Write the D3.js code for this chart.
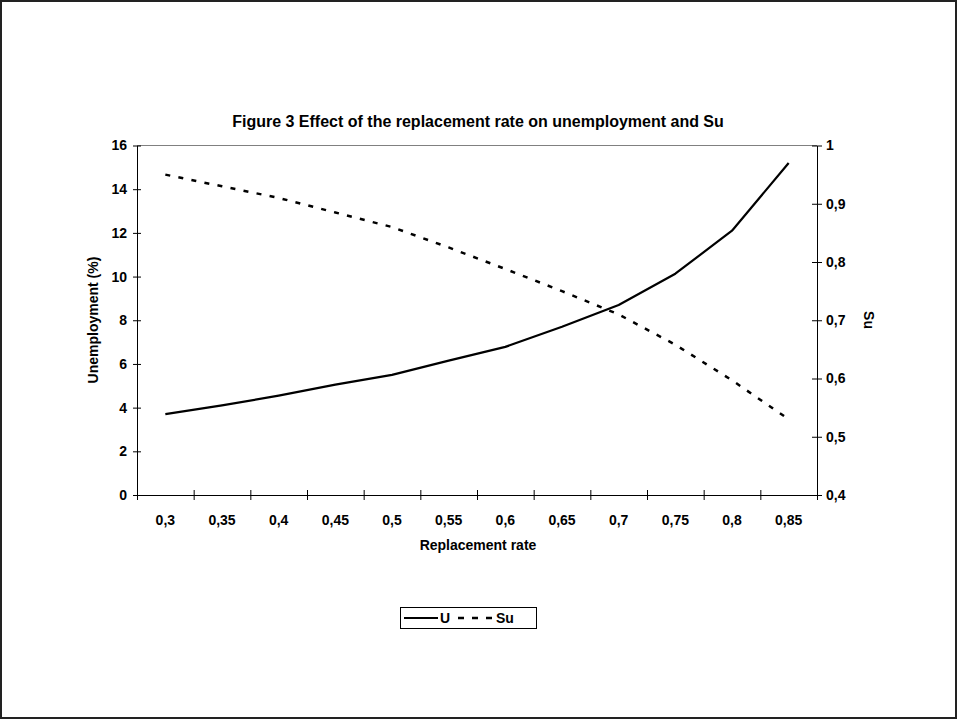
<!DOCTYPE html>
<html><head><meta charset="utf-8">
<script src="https://cdn.jsdelivr.net/npm/d3@7"></script>
<style>
html,body{margin:0;padding:0;background:#fff;}
svg text{font-family:"Liberation Sans",Arial,sans-serif;font-weight:bold;fill:#000;}
</style></head>
<body>
<svg id="chart" width="958" height="720"></svg>
<script>
const categories = ["0,3","0,35","0,4","0,45","0,5","0,55","0,6","0,65","0,7","0,75","0,8","0,85"];
const uValues  = [3.7, 4.1, 4.55, 5.05, 5.5, 6.15, 6.78, 7.7, 8.7, 10.13, 12.1, 15.2];
const suValues = [0.95, 0.93, 0.91, 0.885, 0.86, 0.825, 0.788, 0.75, 0.71, 0.658, 0.597, 0.53];
const leftTicks = [0, 2, 4, 6, 8, 10, 12, 14, 16];
const rightTicks = [0.4, 0.5, 0.6, 0.7, 0.8, 0.9, 1];
const rightTickLabels = ["0,4","0,5","0,6","0,7","0,8","0,9","1"];

const svg = d3.select("#chart");
const L = 137, R = 817, T = 145.5, B = 495;
const FS = "14px";

// outer border
svg.append("rect").attr("x",1).attr("y",1).attr("width",955).attr("height",717)
  .attr("fill","#fff").attr("stroke","#222").attr("stroke-width",2);

const x = d3.scaleBand().domain(categories).range([L, R]).padding(0);
const xb = d3.scaleLinear().domain([0, categories.length]).range([L, R]);
const yL = d3.scaleLinear().domain([0, 16]).range([B, T]);
const yR = d3.scaleLinear().domain([0.4, 1]).range([B, T]);
const cx = c => x(c) + x.bandwidth() / 2;

// plot area top border
svg.append("line").attr("x1",L).attr("x2",R).attr("y1",T).attr("y2",T)
  .attr("stroke","#808080").attr("stroke-width",1);

function styleAxis(g){
  g.select(".domain").attr("stroke","#000").attr("stroke-width",1);
  g.selectAll(".tick line").attr("stroke","#000").attr("stroke-width",1);
  g.selectAll("text").attr("font-size",FS).attr("font-family","Liberation Sans, Arial, sans-serif").attr("font-weight","bold").attr("fill","#000");
}

// bottom axis: boundary ticks
const gxB = svg.append("g").attr("transform",`translate(0,${B})`)
  .call(d3.axisBottom(xb).tickValues(d3.range(0, categories.length + 1)).tickSize(5).tickSizeOuter(0).tickFormat(""));
gxB.selectAll(".tick line").attr("y1",-5).attr("y2",5);
styleAxis(gxB);
// bottom labels
const gxL = svg.append("g").attr("transform",`translate(0,${B})`)
  .call(d3.axisBottom(x).tickSize(0).tickPadding(20));
gxL.select(".domain").remove();
styleAxis(gxL);

// left axis
const gyL = svg.append("g").attr("transform",`translate(${L},0)`)
  .call(d3.axisLeft(yL).tickValues(leftTicks).tickSize(4).tickSizeOuter(0).tickPadding(6).tickFormat(d3.format("d")));
gyL.selectAll(".tick line").attr("x1",4).attr("x2",-4);
styleAxis(gyL);

// right axis
const gyR = svg.append("g").attr("transform",`translate(${R},0)`)
  .call(d3.axisRight(yR).tickValues(rightTicks).tickSize(4).tickSizeOuter(0).tickPadding(5)
    .tickFormat((d,i) => rightTickLabels[i]));
gyR.selectAll(".tick line").attr("x1",-5).attr("x2",5);
styleAxis(gyR);

// lines
const lineU = d3.line().x((d,i) => cx(categories[i])).y(d => yL(d));
const lineSu = d3.line().x((d,i) => cx(categories[i])).y(d => yR(d));
svg.append("path").datum(uValues).attr("d", lineU).attr("fill","none")
  .attr("stroke","#000").attr("stroke-width",2.2).attr("stroke-linejoin","round");
svg.append("path").datum(suValues).attr("d", lineSu).attr("fill","none")
  .attr("stroke","#000").attr("stroke-width",2.5).attr("stroke-dasharray","5,8.3");

// title
svg.append("text").attr("x",478).attr("y",127).attr("text-anchor","middle")
  .attr("font-size","16px").text("Figure 3 Effect of the replacement rate on unemployment and Su");
// x axis title
svg.append("text").attr("x",478).attr("y",550).attr("text-anchor","middle")
  .attr("font-size",FS).text("Replacement rate");
// left axis title
svg.append("text").attr("transform","translate(98,320) rotate(-90)").attr("text-anchor","middle")
  .attr("font-size",FS).text("Unemployment (%)");
// right axis title
svg.append("text").attr("transform","translate(864,320) rotate(90)").attr("text-anchor","middle")
  .attr("font-size",FS).text("Su");

// legend
const lg = svg.append("g");
lg.append("rect").attr("x",400.5).attr("y",607.5).attr("width",136).attr("height",21)
  .attr("fill","#fff").attr("stroke","#000").attr("stroke-width",1);
lg.append("line").attr("x1",404).attr("x2",438).attr("y1",618).attr("y2",618)
  .attr("stroke","#000").attr("stroke-width",2.2);
lg.append("text").attr("x",440).attr("y",623).attr("font-size",FS).text("U");
lg.append("line").attr("x1",458).attr("x2",492).attr("y1",618).attr("y2",618)
  .attr("stroke","#000").attr("stroke-width",2.5).attr("stroke-dasharray","6,8");
lg.append("text").attr("x",496).attr("y",623).attr("font-size",FS).text("Su");
</script>
</body></html>
